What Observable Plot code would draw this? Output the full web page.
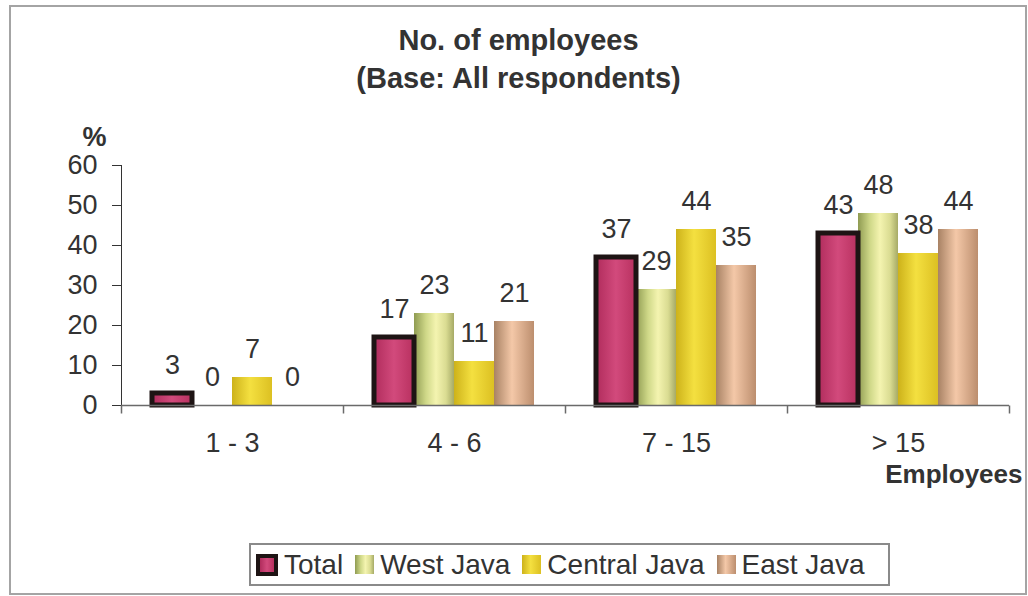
<!DOCTYPE html>
<html>
<head>
<meta charset="utf-8">
<script src="https://cdn.jsdelivr.net/npm/d3@7"></script>
<script src="https://cdn.jsdelivr.net/npm/@observablehq/plot@0.6"></script>
<style>
  html, body { margin: 0; padding: 0; background: #fff; }
  #wrap { position: relative; width: 1028px; height: 596px; overflow: hidden; background: #fff;
          font-family: "Liberation Sans", Arial, sans-serif; color: #333; }
  #border { position: absolute; left: 9px; top: 5px; width: 1014px; height: 586px; border: 2px solid #a4a4a4; }
  #chart { position: absolute; left: 0; top: 0; }
  #title { position: absolute; left: 0; top: 21px; width: 1037px; text-align: center; font-weight: bold;
           font-size: 29px; line-height: 38px; color: #333; }
  #legend { position: absolute; left: 249px; top: 543px; width: 632px; height: 39px; border: 2px solid #8a8a8a;
            display: flex; align-items: center; padding-left: 5px; box-sizing: content-box; font-size: 28px; color: #333; }
  .item { display: flex; align-items: center; margin-right: 12px; }
  .sw { width: 19px; height: 19px; margin-right: 6px; box-sizing: border-box; }
</style>
</head>
<body>
<div id="wrap">
  <div id="chart"></div>
  <div id="border"></div>
  <div id="title">No. of employees<br>(Base: All respondents)</div>
  <div id="legend"></div>
</div>
<script>
// ---- data ----
const categories = ["1 - 3", "4 - 6", "7 - 15", "> 15"];
const seriesNames = ["Total", "West Java", "Central Java", "East Java"];
const total = [3, 17, 37, 43];
const westJava = [0, 23, 29, 48];
const centralJava = [7, 11, 44, 38];
const eastJava = [0, 21, 35, 44];
const yTicks = [0, 10, 20, 30, 40, 50, 60];
const yLabel = "%";
const xLabel = "Employees";

// ---- styles ----
const gradients = {
  Total: [[0, "#b02c5c"], [0.5, "#d24a7c"], [1, "#b8305f"]],
  "West Java": [[0, "#8f9b52"], [0.3, "#cfd888"], [0.55, "#f4f4b0"], [0.8, "#dadc92"], [1, "#a6aa66"]],
  "Central Java": [[0, "#cdb21a"], [0.45, "#f4e040"], [1, "#dcc022"]],
  "East Java": [[0, "#a88264"], [0.45, "#f4c8a8"], [1, "#bc8e6e"]]
};
const gid = (s, i) => "grad" + i;

const seriesValues = [total, westJava, centralJava, eastJava];
const rows = [];
categories.forEach((c, ci) => {
  seriesNames.forEach((s, si) => rows.push({cat: c, series: s, value: seriesValues[si][ci]}));
});

const tickSymbol = { draw(ctx) { ctx.moveTo(0, 0); ctx.lineTo(0, 8); } };

const svg = Plot.plot({
  width: 1028,
  height: 530,
  marginLeft: 120,
  marginRight: 18,
  marginTop: 165,
  marginBottom: 125,
  style: { fontFamily: "'Liberation Sans', Arial, sans-serif", fontSize: "27px", color: "#333", background: "transparent" },
  fx: { domain: categories, padding: 0, axis: "bottom", tickSize: 0, tickPadding: 27, label: null },
  x: { domain: seriesNames, paddingInner: 0, paddingOuter: 0.74, axis: null },
  y: { domain: [0, 60], ticks: yTicks, tickSize: 9, tickPadding: 15, label: null, line: true },
  color: { domain: seriesNames, range: seriesNames.map((s, i) => `url(#${gid(s, i)})`) },
  marks: [
    Plot.barY(rows, { fx: "cat", x: "series", y: "value", fill: "series" }),
    Plot.barY(rows.filter(d => d.series === "Total"), { fx: "cat", x: "series", y: "value", fill: "none", stroke: "#1e1414", strokeWidth: 5 }),
    Plot.ruleY([0], { stroke: "#6a6a6a", strokeWidth: 1.5 }),
    Plot.dot(categories.map(c => ({cat: c})), { fx: "cat", frameAnchor: "bottom-left", symbol: tickSymbol, stroke: "#6a6a6a", strokeWidth: 1.5, fill: "none" }),
    Plot.dot([{cat: categories[categories.length - 1]}], { fx: "cat", frameAnchor: "bottom-right", symbol: tickSymbol, stroke: "#6a6a6a", strokeWidth: 1.5, fill: "none" }),
    Plot.text(rows, { fx: "cat", x: "series", y: "value", text: "value", dy: -20, lineAnchor: "bottom", fill: "#333" }),
    Plot.text([{cat: categories[0]}], { fx: "cat", frameAnchor: "top-left", text: () => yLabel, textAnchor: "middle", dx: -27, dy: -39, fontWeight: "bold", fill: "#333" }),
    Plot.text([{cat: categories[categories.length - 1]}], { fx: "cat", frameAnchor: "bottom-right", text: () => xLabel, textAnchor: "end", dx: 13, dy: 77, fontWeight: "bold", fontSize: 26, fill: "#333" })
  ]
});

// gradient definitions
const ns = "http://www.w3.org/2000/svg";
const defs = document.createElementNS(ns, "defs");
seriesNames.forEach((s, i) => {
  const lg = document.createElementNS(ns, "linearGradient");
  lg.setAttribute("id", gid(s, i));
  lg.setAttribute("x1", "0"); lg.setAttribute("x2", "1"); lg.setAttribute("y1", "0"); lg.setAttribute("y2", "0");
  gradients[s].forEach(([o, c]) => {
    const st = document.createElementNS(ns, "stop");
    st.setAttribute("offset", o); st.setAttribute("stop-color", c);
    lg.appendChild(st);
  });
  defs.appendChild(lg);
});
svg.insertBefore(defs, svg.firstChild);
document.getElementById("chart").appendChild(svg);

// legend
const legend = document.getElementById("legend");
seriesNames.forEach((s, i) => {
  const item = document.createElement("div");
  item.className = "item";
  const sw = document.createElement("div");
  sw.className = "sw";
  const stops = gradients[s].map(([o, c]) => `${c} ${o * 100}%`).join(", ");
  sw.style.background = `linear-gradient(to right, ${stops})`;
  if (s === "Total") { sw.style.border = "4px solid #1e1414"; sw.style.width = "22px"; sw.style.height = "22px"; }
  const lab = document.createElement("span");
  lab.textContent = s;
  item.appendChild(sw); item.appendChild(lab);
  legend.appendChild(item);
});
</script>
</body>
</html>
